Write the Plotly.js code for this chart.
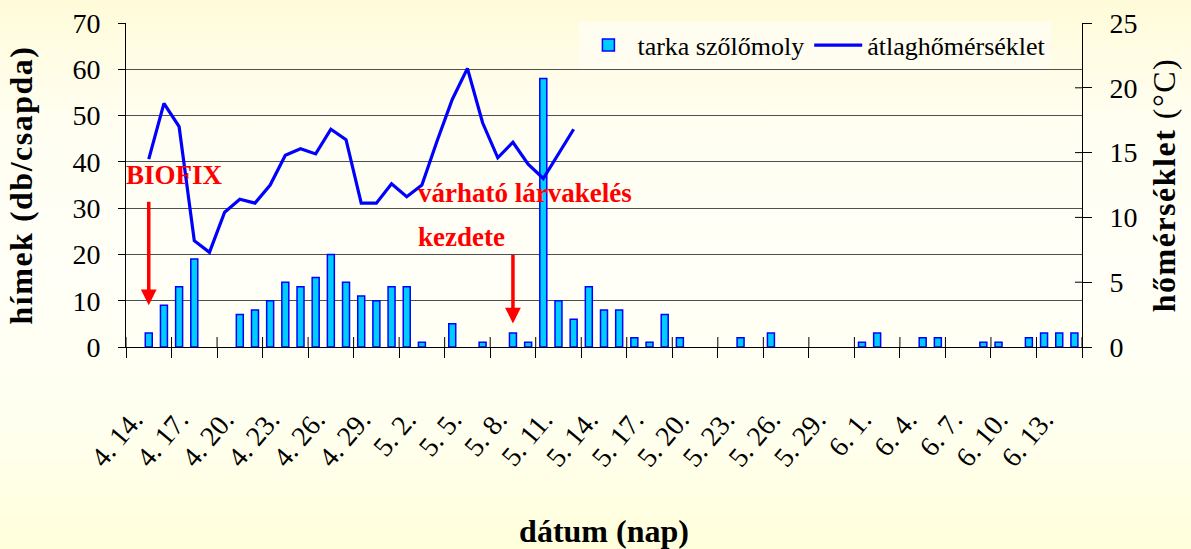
<!DOCTYPE html>
<html>
<head>
<meta charset="utf-8">
<script src="https://cdn.plot.ly/plotly-3.0.1.min.js"></script>
<style>
  html, body { margin: 0; padding: 0; }
  #chart {
    width: 1191px; height: 549px;
    background: linear-gradient(180deg, #FFFBD9 0%, #FFFEF1 22%, #FFFFF7 50%, #FFFFEF 78%, #FFFFDB 100%);
  }
  .ytitle, .y2title { letter-spacing: 1.5px; }
</style>
</head>
<body>
<div id="chart"></div>
<script>
// categories (days, 4.14 – 6.15)
const dates = [
  "4. 14.","4. 15.","4. 16.","4. 17.","4. 18.","4. 19.","4. 20.","4. 21.","4. 22.","4. 23.",
  "4. 24.","4. 25.","4. 26.","4. 27.","4. 28.","4. 29.","4. 30.","5. 1.","5. 2.","5. 3.",
  "5. 4.","5. 5.","5. 6.","5. 7.","5. 8.","5. 9.","5. 10.","5. 11.","5. 12.","5. 13.",
  "5. 14.","5. 15.","5. 16.","5. 17.","5. 18.","5. 19.","5. 20.","5. 21.","5. 22.","5. 23.",
  "5. 24.","5. 25.","5. 26.","5. 27.","5. 28.","5. 29.","5. 30.","5. 31.","6. 1.","6. 2.",
  "6. 3.","6. 4.","6. 5.","6. 6.","6. 7.","6. 8.","6. 9.","6. 10.","6. 11.","6. 12.",
  "6. 13.","6. 14.","6. 15."
];
// male moths caught per trap (tarka szőlőmoly)
const moths = [
  0, 3, 9, 13, 19, 0, 0, 7, 8, 10,
  14, 13, 15, 20, 14, 11, 10, 13, 13, 1,
  0, 5, 0, 1, 0, 3, 1, 58, 10, 6,
  13, 8, 8, 2, 1, 7, 2, 0, 0, 0,
  2, 0, 3, 0, 0, 0, 0, 0, 1, 3,
  0, 0, 2, 2, 0, 0, 1, 1, 0, 2,
  3, 3, 3
];
// daily mean temperature (°C), 4.15 – 5.13
const tempDates = [
  "4. 15.","4. 16.","4. 17.","4. 18.","4. 19.","4. 20.","4. 21.","4. 22.","4. 23.","4. 24.",
  "4. 25.","4. 26.","4. 27.","4. 28.","4. 29.","4. 30.","5. 1.","5. 2.","5. 3.","5. 4.",
  "5. 5.","5. 6.","5. 7.","5. 8.","5. 9.","5. 10.","5. 11.","5. 12.","5. 13."
];
const temps = [
  14.5, 18.8, 17.0, 8.2, 7.3, 10.4, 11.4, 11.1, 12.5, 14.8,
  15.3, 14.9, 16.8, 16.0, 11.1, 11.1, 12.6, 11.6, 12.5, 15.9,
  19.1, 21.5, 17.3, 14.6, 15.8, 14.1, 13.0, 14.9, 16.8
];
// tick labels shown on the date axis
const tickDates = [
  "4. 14.","4. 17.","4. 20.","4. 23.","4. 26.","4. 29.","5. 2.","5. 5.","5. 8.","5. 11.",
  "5. 14.","5. 17.","5. 20.","5. 23.","5. 26.","5. 29.","6. 1.","6. 4.","6. 7.","6. 10.","6. 13."
];
const tempTicks = [0, 5, 10, 15, 20, 25];
// event markers
const events = [
  {date: "4. 15.", from: 31.7, to: 9.0},
  {date: "5. 9.",  from: 20.2, to: 5.1}
];

const FONT = "Liberation Serif";
const n = dates.length;
const pos = d => dates.indexOf(d);
const boundaries = [];
for (let k = 0; k <= n; k += 3) boundaries.push(k - 0.5);

const traces = [
  {
    type: "bar", name: "tarka szőlőmoly",
    x: dates.map(pos), y: moths.map(v => (v === 0 ? null : v)),
    width: 0.46,
    marker: {color: "#00CCFF", line: {color: "#0000FF", width: 1.5}},
    xaxis: "x", yaxis: "y"
  },
  {
    type: "scatter", mode: "lines", name: "átlaghőmérséklet",
    x: tempDates.map(pos), y: temps,
    line: {color: "#0000FF", width: 3.2},
    xaxis: "x", yaxis: "y2"
  }
];

const annotations = [
  {xref: "paper", yref: "paper", x: -0.002, y: 0.53, xanchor: "left", yanchor: "middle",
   text: "<b>BIOFIX</b>", showarrow: false, font: {family: FONT, size: 27, color: "#FF0000"}},
  {xref: "paper", yref: "paper", x: 0.303, y: 0.475, xanchor: "left", yanchor: "middle",
   text: "<b>várható lárvakelés</b>", showarrow: false, font: {family: FONT, size: 27, color: "#FF0000"}},
  {xref: "paper", yref: "paper", x: 0.303, y: 0.34, xanchor: "left", yanchor: "middle",
   text: "<b>kezdete</b>", showarrow: false, font: {family: FONT, size: 27, color: "#FF0000"}}
];
events.forEach(e => {
  const i = pos(e.date);
  annotations.push({
    xref: "x", yref: "y", axref: "x", ayref: "y",
    x: i, y: e.to, ax: i, ay: e.from, text: "",
    showarrow: true, arrowhead: 2, arrowsize: 0.9, arrowwidth: 3.5,
    arrowcolor: "#FF0000", standoff: 0, startstandoff: 0
  });
});

// inner halves of the crossing tick marks
const shapes = [];
boundaries.forEach(b => shapes.push({
  type: "line", xref: "x", yref: "paper", x0: b, x1: b, y0: 0, y1: 10 / 324,
  line: {color: "#000", width: 1}
}));
tempTicks.slice(1, -1).forEach(v => shapes.push({
  type: "line", xref: "paper", yref: "y2", x0: 1 - 7 / 956, x1: 1, y0: v, y1: v,
  line: {color: "#000", width: 1}
}));

const layout = {
  width: 1191, height: 549,
  margin: {l: 126, r: 109, t: 23, b: 202},
  paper_bgcolor: "rgba(0,0,0,0)",
  plot_bgcolor: "rgba(0,0,0,0)",
  font: {family: FONT, size: 27, color: "#000"},
  showlegend: true,
  legend: {
    orientation: "h", x: 0.968, xanchor: "right", y: 1.004, yanchor: "top",
    bgcolor: "#FFFDF0", borderwidth: 0,
    font: {family: FONT, size: 26, color: "#000"},
    itemwidth: 48, tracegroupgap: 0
  },
  xaxis: {
    type: "linear", range: [-0.5, n - 0.5],
    showline: true, linecolor: "#000", linewidth: 1,
    ticks: "", showgrid: false, zeroline: false,
    tickmode: "array", tickvals: tickDates.map(pos), ticktext: tickDates,
    tickangle: -50, ticklabelstandoff: 44,
    tickfont: {family: FONT, size: 28, color: "#000"},
    minor: {tickmode: "array", tickvals: boundaries, ticks: "outside", ticklen: 10,
            tickcolor: "#000", tickwidth: 1, showgrid: false},
    title: {text: "<b>dátum (nap)</b>", font: {family: FONT, size: 32, color: "#000"}, standoff: 50}
  },
  yaxis: {
    range: [0, 70], dtick: 10, tick0: 0,
    showline: true, linecolor: "#000", linewidth: 1,
    ticks: "outside", ticklen: 7, tickcolor: "#000", ticklabelstandoff: 12,
    showgrid: true, gridcolor: "#505050", gridwidth: 1, zeroline: false,
    tickfont: {family: FONT, size: 28, color: "#000"},
    title: {text: "<b>hímek (db/csapda)</b>", font: {family: FONT, size: 32, color: "#000"}, standoff: 30}
  },
  yaxis2: {
    overlaying: "y", side: "right", anchor: "x",
    range: [0, 25], tickmode: "array", tickvals: tempTicks,
    showline: true, linecolor: "#000", linewidth: 1,
    ticks: "outside", ticklen: 9, tickcolor: "#000", ticklabelstandoff: 12,
    showgrid: false, zeroline: false,
    tickfont: {family: FONT, size: 28, color: "#000"},
    title: {text: "<b>hőmérséklet</b> (°C)", font: {family: FONT, size: 32, color: "#000"}, standoff: 16}
  },
  shapes: shapes,
  annotations: annotations
};

Plotly.newPlot("chart", traces, layout, {displayModeBar: false, staticPlot: true});
</script>
</body>
</html>
